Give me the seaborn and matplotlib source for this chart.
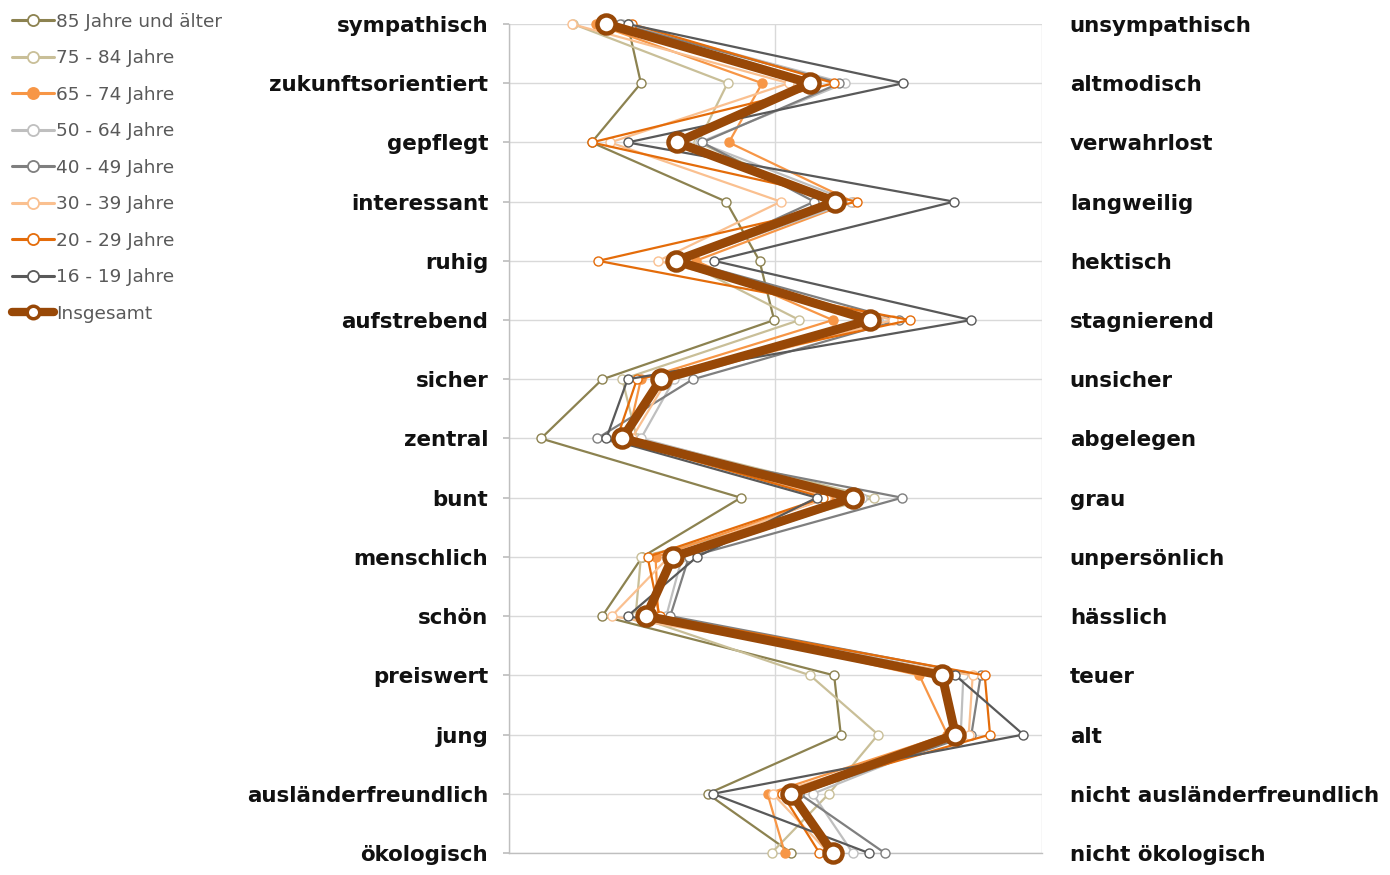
import numpy as np
import pandas as pd
import matplotlib
matplotlib.use("Agg")
import matplotlib.pyplot as plt
import seaborn as sns

# Polarity pairs of the semantic differential
left_terms = ["sympathisch", "zukunftsorientiert", "gepflegt", "interessant", "ruhig",
              "aufstrebend", "sicher", "zentral", "bunt", "menschlich", "schön",
              "preiswert", "jung", "ausländerfreundlich", "ökologisch"]
right_terms = ["unsympathisch", "altmodisch", "verwahrlost", "langweilig", "hektisch",
               "stagnierend", "unsicher", "abgelegen", "grau", "unpersönlich", "hässlich",
               "teuer", "alt", "nicht ausländerfreundlich", "nicht ökologisch"]

# Mean ratings on a 1-5 scale per age group
age_85_plus = [1.89, 1.99, 1.62, 2.63, 2.88, 2.99, 1.70, 1.24, 2.74, 2.00, 1.70, 3.44, 3.49, 2.49, 3.12]
age_75_84 = [1.48, 2.64, 2.42, 3.40, 2.30, 3.18, 1.85, 1.96, 3.74, 1.99, 1.95, 3.26, 3.77, 3.40, 2.97]
age_65_74 = [1.65, 2.90, 2.65, 3.58, 2.40, 3.43, 1.99, 1.89, 3.40, 2.10, 2.12, 4.08, 4.29, 2.94, 3.07]
age_50_64 = [1.85, 3.52, 2.43, 3.57, 2.30, 3.77, 2.24, 1.99, 3.65, 2.30, 2.18, 4.41, 4.39, 3.28, 3.58]
age_40_49 = [1.83, 3.48, 2.45, 3.29, 2.32, 3.93, 2.38, 1.66, 3.95, 2.35, 2.21, 4.54, 4.47, 3.18, 3.82]
age_30_39 = [1.47, 3.10, 1.76, 3.04, 2.12, 3.88, 2.19, 1.92, 3.38, 2.20, 1.77, 4.48, 4.45, 2.98, 3.40]
age_20_29 = [1.92, 3.44, 1.62, 3.61, 1.67, 4.01, 1.96, 1.81, 3.36, 2.04, 2.13, 4.57, 4.61, 3.05, 3.33]
age_16_19 = [1.89, 3.96, 1.89, 4.34, 2.54, 4.47, 1.89, 1.73, 3.31, 2.41, 1.89, 4.35, 4.86, 2.53, 3.70]
overall = [1.73, 3.26, 2.26, 3.45, 2.25, 3.71, 2.14, 1.85, 3.58, 2.23, 2.03, 4.25, 4.35, 3.12, 3.43]

series_names = ["85 Jahre und älter", "75 - 84 Jahre", "65 - 74 Jahre", "50 - 64 Jahre",
                "40 - 49 Jahre", "30 - 39 Jahre", "20 - 29 Jahre", "16 - 19 Jahre", "Insgesamt"]
series_values = [age_85_plus, age_75_84, age_65_74, age_50_64, age_40_49,
                 age_30_39, age_20_29, age_16_19, overall]

colors = ["#8C8250", "#C9BF98", "#F79646", "#BFBFBF", "#7F7F7F",
          "#FAC090", "#E46C0A", "#595959", "#984807"]

rows = []
for name, vals in zip(series_names, series_values):
    for i, v in enumerate(vals):
        rows.append({"Gruppe": name, "pos": i, "Wert": v})
df = pd.DataFrame(rows)

sns.set_theme(style="white")
plt.rcParams["font.family"] = ["DejaVu Sans"]

fig = plt.figure(figsize=(13.9, 8.75), dpi=100)
ax = fig.add_axes([509 / 1390, 1 - 853 / 875, (1042 - 509) / 1390, (853 - 24) / 875])

grid_col = "#D9D9D9"
for i in range(len(left_terms)):
    ax.axhline(i, color=grid_col, lw=1.0, zorder=0)
for xv in (1, 3, 5):
    ax.axvline(xv, color=grid_col, lw=1.0, zorder=0)

for k, name in enumerate(series_names):
    sub = df[df["Gruppe"] == name]
    if name == "Insgesamt":
        style = dict(linewidth=6.5, markersize=13, markeredgewidth=3.2,
                     markerfacecolor="white", markeredgecolor=colors[k])
    elif name == "65 - 74 Jahre":
        style = dict(linewidth=1.6, markersize=6.5, markeredgewidth=1.0,
                     markerfacecolor=colors[k], markeredgecolor=colors[k])
    else:
        style = dict(linewidth=1.6, markersize=6.5, markeredgewidth=1.0,
                     markerfacecolor="white", markeredgecolor=colors[k])
    sns.lineplot(data=sub, x="Wert", y="pos", orient="y", sort=True, estimator=None,
                 color=colors[k], marker="o", label=name, ax=ax, zorder=3 + k,
                 clip_on=False, legend=False, **style)

ax.set_xlim(1, 5)
ax.set_ylim(len(left_terms) - 1, 0)
ax.set_xticks([])
ax.set_xlabel("")
ax.set_ylabel("")
for s in ("top", "right"):
    ax.spines[s].set_visible(False)
ax.spines["left"].set_color("#BFBFBF")
ax.spines["bottom"].set_color("#BFBFBF")
ax.spines["left"].set_linewidth(1.0)
ax.spines["bottom"].set_linewidth(1.0)

label_font = dict(fontsize=15.4, fontweight="bold", color="#111111")
ax.set_yticks(range(len(left_terms)))
ax.set_yticklabels(left_terms, **label_font)
ax.tick_params(axis="y", which="both", left=True, length=4, color="#BFBFBF", pad=11)

ax2 = ax.twinx()
ax2.set_ylim(len(left_terms) - 1, 0)
ax2.set_yticks(range(len(right_terms)))
ax2.set_yticklabels(right_terms, **label_font)
ax2.tick_params(axis="y", length=0, pad=20)
for s in ax2.spines.values():
    s.set_visible(False)
ax2.grid(False)

handles, labels = ax.get_legend_handles_labels()
leg = fig.legend(handles, labels, loc="upper left", bbox_to_anchor=(0.001, 0.998),
                 frameon=False, fontsize=13.3, handlelength=2.25, handletextpad=0.12,
                 labelspacing=1.0, borderaxespad=0.2)
for t in leg.get_texts():
    t.set_color("#595959")
for h in leg.legend_handles:
    if h.get_label() == "Insgesamt":
        h.set_markersize(9)
        h.set_markeredgewidth(2.5)
        h.set_linewidth(6)
    else:
        h.set_linewidth(2.2)
        h.set_markersize(8)
        h.set_markeredgewidth(1.3)

fig.savefig("out.png", dpi=100)
